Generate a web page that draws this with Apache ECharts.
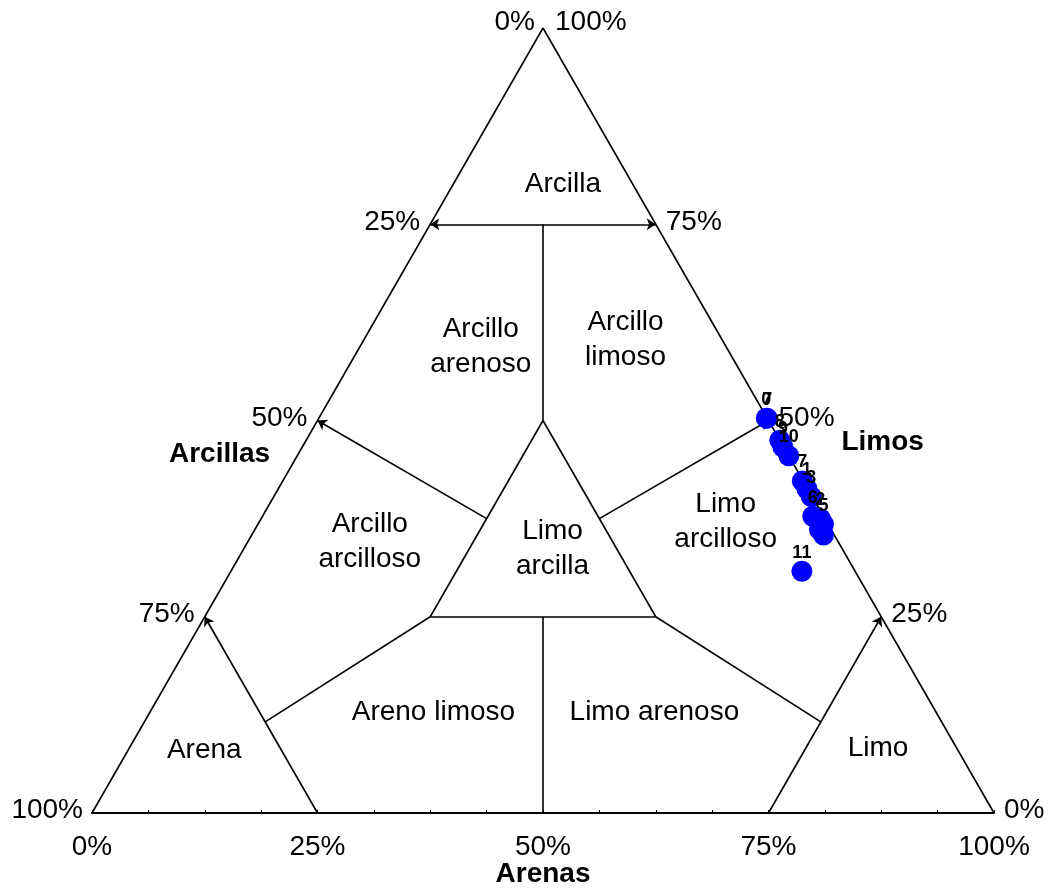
<!DOCTYPE html>
<html>
<head>
<meta charset="utf-8">
<script src="https://cdn.jsdelivr.net/npm/echarts@6/dist/echarts.min.js"></script>
<style>
  html, body { margin: 0; padding: 0; background: #ffffff; }
  #chart { width: 1053px; height: 888px; }
</style>
</head>
<body>
<div id="chart"></div>
<script>
// Sample compositions (%) read along the three labelled edges of the triangle.
// "Arenas" runs along the base, "Limos" along the right edge; the remaining
// share ("Arcillas", left edge) follows from the other two.
const sampleIds = ['7', '0', '8', '9', '10', '7', '1', '3', '6', '2', '5', '4', '4', '11'];
const arenas    = [49.7, 49.6, 52.5, 53.3, 54.5, 57.6, 58.6, 59.6, 61.0, 62.0, 62.7, 62.6, 63.4, 63.3];
const limos     = [50.3, 50.3, 47.5, 46.6, 45.5, 42.3, 41.3, 40.3, 37.8, 37.5, 36.8, 36.1, 35.4, 30.8];
const arcillas  = arenas.map((a, i) => +(100 - a - limos[i]).toFixed(1));
const hiddenIds = [11, 12];   // labels covered by neighbouring markers

// Edge scale labels
const baseTicks  = ['0%', '25%', '50%', '75%', '100%'];          // Arenas, left to right
const leftTicks  = ['0%', '25%', '50%', '75%', '100%'];          // Arcillas, apex to bottom-left
const rightTicks = ['100%', '75%', '50%', '25%', '0%'];          // Limos, apex to bottom-right

// Texture classes and the (arenas, limos) point where each name sits
const classNames = ['Arcilla', 'Arcillo\narenoso', 'Arcillo\nlimoso', 'Arcillo\narcilloso',
                    'Limo\narcilla', 'Limo\narcilloso', 'Areno limoso', 'Limo arenoso', 'Arena', 'Limo'];
const classAt = [[12.0, 80.4], [13.3, 59.6], [28.9, 60.5], [13.4, 34.8], [34.1, 33.9],
                 [51.6, 37.3], [31.3, 13.1], [55.8, 13.1], [8.3, 8.3], [82.9, 8.5]];

// Class boundaries as pairs of (arenas, limos) points; arrow marks the edge end
const boundaries = [
  { from: [0, 75],     to: [25, 75],    arrows: 'both' },
  { from: [12.5, 75],  to: [25, 50],    arrows: 'none' },
  { from: [25, 50],    to: [25, 25],    arrows: 'none' },
  { from: [25, 25],    to: [50, 25],    arrows: 'none' },
  { from: [50, 25],    to: [25, 50],    arrows: 'none' },
  { from: [25, 37.5],  to: [0, 50],     arrows: 'end' },
  { from: [37.5, 37.5],to: [50, 50],    arrows: 'end' },
  { from: [37.5, 25],  to: [50, 0],     arrows: 'none' },
  { from: [25, 0],     to: [0, 25],     arrows: 'end' },
  { from: [75, 0],     to: [75, 25],    arrows: 'end' },
  { from: [25, 25],    to: [13.4, 11.6],arrows: 'none' },
  { from: [50, 25],    to: [75, 11.6],  arrows: 'none' }
];

// (arenas, limos) -> plane coordinates: x along the base, y = height (0..100)
function toXY(a, l) { return [a + l / 2, l]; }

const FONT = "'Liberation Sans', Arial, sans-serif";
const TXT = { color: '#000000', fontFamily: FONT, fontSize: 28 };

// Points where edge scale labels are attached
const leftEdge  = leftTicks.map((t, i) => ({ at: toXY(0, 100 - i * 25), text: t }));
const rightEdge = rightTicks.map((t, i) => ({ at: toXY(i * 25, 100 - i * 25), text: t }));

const chart = echarts.init(document.getElementById('chart'), null, { renderer: 'canvas' });

function textPoint(pos, text, label) {
  return { value: pos, label: Object.assign({ show: true, formatter: text }, label) };
}

const edgeLabelData = [];
leftEdge.forEach((p, i) => {
  const dy = i === 0 ? -6 : (i === 4 ? -3 : -2);
  const dx = i === 0 ? -3 : (i === 4 ? -4 : -5);
  edgeLabelData.push(textPoint(p.at, p.text, { position: 'left', offset: [dx, dy] }));
});
rightEdge.forEach((p, i) => {
  const dy = i === 0 ? -6 : (i === 4 ? -3 : -2);
  edgeLabelData.push(textPoint(p.at, p.text, { position: 'right', offset: [i === 0 ? 7 : 5, dy] }));
});

const markLines = boundaries.map(b => {
  const sym = b.arrows === 'both' ? ['arrow', 'arrow'] : b.arrows === 'end' ? ['none', 'arrow'] : ['none', 'none'];
  return [
    { coord: toXY(b.from[0], b.from[1]), symbol: sym[0] },
    { coord: toXY(b.to[0], b.to[1]), symbol: sym[1] }
  ];
});

const textSeries = (data, label, z) => ({
  type: 'scatter',
  symbolSize: 0,
  silent: true,
  itemStyle: { opacity: 1 },
  data: data,
  label: label,
  z: z
});

const option = {
  animation: false,
  backgroundColor: '#ffffff',
  grid: { left: 92, right: 59, top: 28, bottom: 75, containLabel: false, outerBoundsMode: 'none' },
  xAxis: {
    type: 'value', min: 0, max: 100, interval: 6.25,
    name: 'Arenas', nameLocation: 'middle', nameGap: 47, nameMoveOverlap: false,
    nameTextStyle: { color: '#000', fontFamily: FONT, fontSize: 28, fontWeight: 'bold' },
    axisLine: { show: true, lineStyle: { color: '#000', width: 2 } },
    axisTick: { show: true, inside: true, length: 3, lineStyle: { color: '#000', width: 1 } },
    axisLabel: {
      margin: 20, color: '#000', fontFamily: FONT, fontSize: 28,
      formatter: v => (v % 25 === 0 ? baseTicks[v / 25] : '')
    },
    splitLine: { show: false }
  },
  yAxis: { type: 'value', min: 0, max: 100, show: false },
  series: [
    {
      // outline of the triangle
      type: 'line',
      data: [toXY(0, 0), toXY(0, 100), toXY(100, 0)],
      symbol: 'none',
      lineStyle: { color: '#000', width: 1.6 },
      silent: true,
      markLine: {
        silent: true,
        symbolSize: 9,
        label: { show: false },
        lineStyle: { color: '#000', width: 1.6, type: 'solid' },
        data: markLines
      },
      z: 2
    },
    // class names
    textSeries(
      classNames.map((n, i) => ({ value: toXY(classAt[i][0], classAt[i][1]), name: n })),
      { show: true, position: 'inside', offset: [0, 2], formatter: p => p.name, lineHeight: 35, ...TXT },
      3
    ),
    // edge percentages
    textSeries(edgeLabelData, { ...TXT }, 3),
    // edge titles
    textSeries([
      textPoint(toXY(-9.3, 46.0), 'Arcillas', { position: 'inside', offset: [4, 2] }),
      textPoint(toXY(63.8, 47.5), 'Limos', { position: 'inside', offset: [1, 2] })
    ], { ...TXT, fontWeight: 'bold' }, 3),
    {
      // samples
      type: 'scatter',
      symbol: 'circle',
      symbolSize: 21,
      itemStyle: { color: '#0000ff', opacity: 1 },
      data: arenas.map((a, i) => ({
        value: toXY(a, limos[i]).concat([arcillas[i]]),
        name: sampleIds[i],
        label: { show: hiddenIds.indexOf(i) < 0 }
      })),
      label: {
        show: true, position: 'top', distance: -1,
        formatter: p => p.name,
        color: '#000', fontFamily: FONT, fontSize: 18, fontWeight: 'bold'
      },
      z: 5
    }
  ]
};

chart.setOption(option);
</script>
</body>
</html>
